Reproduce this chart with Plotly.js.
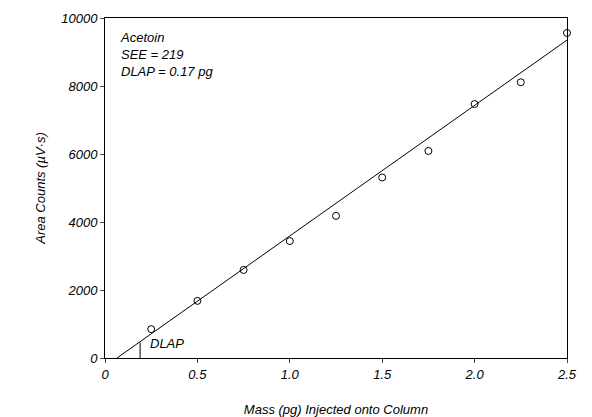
<html><head><script src="https://cdn.plot.ly/plotly-3.0.1.min.js"></script></head><body style="margin:0">
<div id="c" style="width:592px;height:417px"></div>
<script>
const massPg=[0.25,0.5,0.75,1.0,1.25,1.5,1.75,2.0,2.25,2.5];
const areaCounts=[850,1680,2590,3440,4180,5310,6090,7470,8110,9560];
const fitX=[0.065,2.5];
const fitY=[0,9350];
const dlapX=[0.19,0.19];
const dlapY=[0,450];
const F={family:'Liberation Sans, Arial',size:13,color:'#000'};
Plotly.newPlot('c',[
{x:massPg,y:areaCounts,mode:'markers',type:'scatter',marker:{symbol:'circle-open',size:7,color:'#000',line:{width:1}},cliponaxis:false},
{x:fitX,y:fitY,mode:'lines',line:{color:'#000',width:1}},
{x:dlapX,y:dlapY,mode:'lines',line:{color:'#000',width:1}}
],{
width:592,height:417,showlegend:false,paper_bgcolor:'#fff',plot_bgcolor:'#fff',
margin:{l:105,r:25,t:18,b:59},
font:F,
xaxis:{range:[0,2.5],tickvals:[0,0.5,1,1.5,2,2.5],ticktext:['<i>0</i>','<i>0.5</i>','<i>1.0</i>','<i>1.5</i>','<i>2.0</i>','<i>2.5</i>'],ticks:'outside',ticklen:4,showline:true,mirror:true,linecolor:'#000',linewidth:1,showgrid:false,zeroline:false,
 title:{text:'<i>Mass (pg) Injected onto Column</i>',font:F,standoff:24}},
yaxis:{range:[0,10000],tickvals:[0,2000,4000,6000,8000,10000],ticktext:['<i>0</i>','<i>2000</i>','<i>4000</i>','<i>6000</i>','<i>8000</i>','<i>10000</i>'],ticks:'outside',ticklen:4,showline:true,mirror:true,linecolor:'#000',linewidth:1,showgrid:false,zeroline:false,
 title:{text:'<i>Area Counts (µV·s)</i>',font:F,standoff:12}},
annotations:[
{x:0.07,y:9700,xanchor:'left',yanchor:'top',align:'left',showarrow:false,text:'<i>Acetoin<br>SEE = 219<br>DLAP = 0.17 pg</i>',font:F},
{x:0.23,y:150,xanchor:'left',yanchor:'bottom',showarrow:false,text:'<i>DLAP</i>',font:F}
]},{displayModeBar:false});
</script></body></html>
